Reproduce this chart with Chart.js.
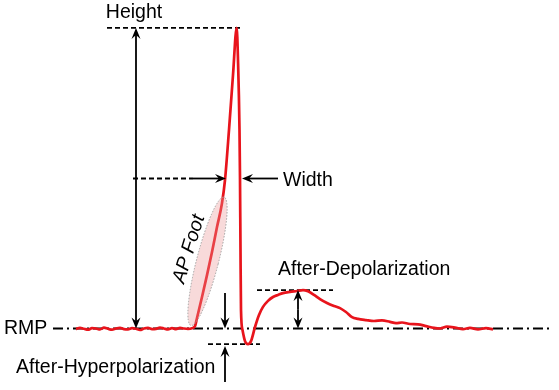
<!DOCTYPE html>
<html>
<head>
<meta charset="utf-8">
<script src="https://cdn.jsdelivr.net/npm/chart.js@4/dist/chart.umd.min.js"></script>
<style>
  html, body { margin: 0; padding: 0; background: #fff; }
  canvas { display: block; }
</style>
</head>
<body>
<canvas id="ap" width="559" height="390"></canvas>
<script>
// trace of one action potential, time in ms, membrane potential in mV
const timeMs = [
  7.6, 8.0, 8.4, 8.8, 9.2, 9.6, 10.0, 10.4, 10.8, 11.2, 11.6, 12.0, 12.4, 12.8, 13.2,
  13.6, 14.0, 14.4, 14.8, 15.2, 15.6, 16.0, 16.4, 16.8, 17.2, 17.6, 18.0, 18.4, 18.8, 19.2,
  19.5, 19.7, 20.2, 20.7, 21.2, 21.7, 22.2, 22.5, 22.9, 23.3, 23.67,
  23.8, 23.95, 24.0, 24.05, 24.1, 24.25, 24.5, 24.8, 25.1, 25.5, 25.9, 26.3, 26.8,
  27.3, 27.8, 28.3, 29.0, 29.7, 30.3, 30.8, 31.4, 32.0, 32.7, 33.4, 34.0, 34.6, 35.2,
  35.8, 36.6, 37.4, 38.2, 39.0, 39.6, 40.2, 41.0, 41.8, 42.6, 43.4, 44.0, 44.7, 45.5,
  46.3, 47.0, 47.8, 48.6, 49.3
];
const voltageMv = [
  -70.2, -69.8, -70.1, -70.4, -69.9, -70.0, -70.3, -69.7, -70.1, -70.4, -70.0, -69.8, -70.2, -70.3, -69.9,
  -70.1, -70.5, -70.0, -69.8, -70.2, -70.1, -69.7, -70.0, -70.3, -69.9, -70.2, -69.8, -70.0, -70.1, -69.9,
  -69.2, -66.5, -59.5, -52.2, -44.5, -36.2, -28.2, -20.5, -3.8, 14.5, 30.2,
  19.5, -3.8, -19.8, -43.8, -63.8, -70.5, -74.2, -75.2, -74.2, -69.5, -65.5, -62.8, -60.8,
  -59.5, -58.8, -58.2, -57.8, -57.5, -57.2, -57.6, -58.8, -60.2, -61.5, -62.5, -63.2, -64.5, -66.2,
  -66.8, -67.2, -67.5, -67.3, -67.8, -68.2, -68.0, -68.5, -68.6, -69.2, -69.8, -70.0, -69.4, -69.7,
  -70.2, -69.8, -70.3, -69.9, -70.3
];

// reference levels (mV) used by the annotations
const rmpMv = -70;
const peakMv = 30.2;
const halfMv = -20;
const ahpMv = -75.2;
const adpMv = -57.2;

const labels = {
  height: 'Height',
  width: 'Width',
  rmp: 'RMP',
  ahp: 'After-Hyperpolarization',
  adp: 'After-Depolarization',
  foot: 'AP Foot'
};

const FONT = '19.5px "Liberation Sans", Arial, sans-serif';

function arrowHead(ctx, x, y, ang) {
  const len = 11, w = 4.5;
  const dx = Math.cos(ang), dy = Math.sin(ang);
  const px = -dy, py = dx;
  ctx.beginPath();
  ctx.moveTo(x, y);
  ctx.lineTo(x - len * dx + w * px, y - len * dy + w * py);
  ctx.lineTo(x - 0.65 * len * dx, y - 0.65 * len * dy);
  ctx.lineTo(x - len * dx - w * px, y - len * dy - w * py);
  ctx.closePath();
  ctx.fill();
}

function line(ctx, x1, y1, x2, y2, dash) {
  ctx.save();
  ctx.setLineDash(dash || []);
  ctx.beginPath();
  ctx.moveTo(x1, y1);
  ctx.lineTo(x2, y2);
  ctx.stroke();
  ctx.restore();
}

// arrow from (x1,y1) to tip (x2,y2)
function arrow(ctx, x1, y1, x2, y2) {
  const ang = Math.atan2(y2 - y1, x2 - x1);
  line(ctx, x1, y1, x2 - 6 * Math.cos(ang), y2 - 6 * Math.sin(ang));
  arrowHead(ctx, x2, y2, ang);
}

const annotations = {
  id: 'annotations',
  beforeDatasetsDraw(chart) {
    const ctx = chart.ctx;
    const X = v => chart.scales.x.getPixelForValue(v);
    const Y = v => chart.scales.y.getPixelForValue(v);
    ctx.save();
    ctx.strokeStyle = '#000';
    ctx.fillStyle = '#000';
    ctx.lineWidth = 1.8;

    // resting membrane potential
    line(ctx, X(5.3), Y(rmpMv), X(55.0), Y(rmpMv), [10, 4, 2, 4]);
    // peak level
    line(ctx, X(10.7), Y(peakMv), X(24.3), Y(peakMv), [5, 3]);
    // AHP / ADP levels
    line(ctx, X(20.8), Y(ahpMv), X(26.0), Y(ahpMv), [5, 3]);
    line(ctx, X(25.7), Y(adpMv), X(33.3), Y(adpMv), [5, 3]);
    // half height level
    line(ctx, X(13.3), Y(halfMv), X(19.3), Y(halfMv), [5, 3]);
    ctx.restore();
  },
  afterDatasetsDraw(chart) {
    const ctx = chart.ctx;
    const X = v => chart.scales.x.getPixelForValue(v);
    const Y = v => chart.scales.y.getPixelForValue(v);
    ctx.save();

    // AP foot ellipse
    const ax = X(19.1), ay = Y(-69.0), bx = X(22.4), by = Y(-26.2);
    const cx = (ax + bx) / 2, cy = (ay + by) / 2;
    const half = Math.hypot(bx - ax, by - ay) / 2;
    const rot = Math.atan2(bx - ax, ay - by);
    ctx.beginPath();
    ctx.ellipse(cx, cy, 11, half, rot, 0, Math.PI * 2);
    ctx.fillStyle = 'rgba(235, 150, 150, 0.35)';
    ctx.fill();
    ctx.setLineDash([1.5, 1.5]);
    ctx.strokeStyle = '#a0a0a0';
    ctx.lineWidth = 1;
    ctx.stroke();
    ctx.setLineDash([]);

    ctx.strokeStyle = '#000';
    ctx.fillStyle = '#000';
    ctx.lineWidth = 1.8;

    // height arrow
    const hx = X(13.6);
    arrow(ctx, hx, Y(-20), hx, Y(peakMv));
    arrow(ctx, hx, Y(-20), hx, Y(rmpMv));

    // width arrows
    arrow(ctx, X(19.3), Y(halfMv), X(22.6), Y(halfMv));
    arrow(ctx, X(27.8), Y(halfMv), X(24.2), Y(halfMv));

    // AHP arrows
    const hpx = X(22.5);
    arrow(ctx, hpx, Y(-58.2), hpx, Y(rmpMv));
    arrow(ctx, hpx, Y(-87.8), hpx, Y(-75.8));

    // ADP double arrow
    const dpx = X(29.8);
    const mid = (adpMv + rmpMv) / 2;
    arrow(ctx, dpx, Y(mid), dpx, Y(adpMv));
    arrow(ctx, dpx, Y(mid), dpx, Y(rmpMv));

    // labels
    ctx.font = FONT;
    ctx.textBaseline = 'middle';
    ctx.textAlign = 'center';
    ctx.fillText(labels.height, X(13.4), Y(35.3));
    ctx.textAlign = 'left';
    ctx.fillText(labels.width, X(28.3), Y(-20.8));
    ctx.fillText(labels.rmp, X(0.4), Y(rmpMv));
    ctx.fillText(labels.ahp, X(1.6), Y(-83.2));
    ctx.fillText(labels.adp, X(27.8), Y(-50.5));

    ctx.save();
    ctx.translate(X(18.9), Y(-43.5));
    ctx.rotate(-73 * Math.PI / 180);
    ctx.textAlign = 'center';
    ctx.font = 'italic 19.5px "Liberation Sans", Arial, sans-serif';
    ctx.fillText(labels.foot, 0, 0);
    ctx.restore();

    ctx.restore();
  }
};

new Chart(document.getElementById('ap'), {
  type: 'line',
  data: {
    datasets: [{
      data: timeMs.map((t, i) => ({ x: t, y: voltageMv[i] })),
      borderColor: '#e8141c',
      borderWidth: 2.7,
      pointRadius: 0,
      cubicInterpolationMode: 'monotone',
      fill: false,
      clip: false
    }]
  },
  options: {
    responsive: false,
    animation: false,
    layout: { padding: 0 },
    plugins: { legend: { display: false }, tooltip: { enabled: false } },
    scales: {
      x: { type: 'linear', min: 0, max: 55.9, display: false },
      y: { min: -90.5, max: 39.5, display: false }
    }
  },
  plugins: [annotations]
});
</script>
</body>
</html>
